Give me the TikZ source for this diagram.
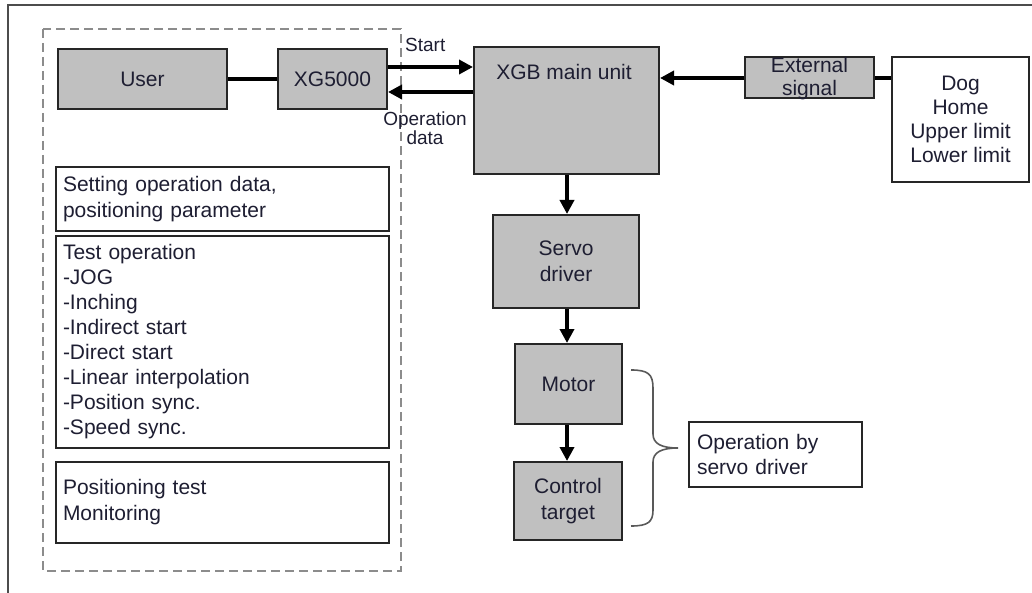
\documentclass[tikz,border=0pt]{standalone}
\usepackage{fontspec}
\setmainfont{Liberation Sans}
\usetikzlibrary{arrows.meta}
\definecolor{boxgray}{HTML}{C0C0C0}
\definecolor{txt}{HTML}{1E1E32}
\begin{document}
\begin{tikzpicture}[x=1pt,y=-1pt,
  every node/.style={text=txt},
  f21/.style={font=\fontsize{21}{25}\selectfont},
  box/.style={draw=black!85,line width=2pt,fill=boxgray,inner sep=0pt,f21,align=center},
  wbox/.style={draw=black!85,line width=2pt,fill=white,inner sep=0pt,f21},
  arr/.style={line width=4pt,-{Triangle[width=14pt,length=14pt]}},
  link/.style={line width=4pt},
  small/.style={font=\fontsize{19}{15}\selectfont,inner sep=0pt,align=center}
]
\useasboundingbox (0,0) rectangle (1032,593);
% outer frame (partly cropped)
\draw[line width=2pt,black!70] (8,593) -- (8,5) -- (1032,5);
% dashed group
\draw[draw=black!45,line width=2pt,dash pattern=on 9pt off 5pt] (43,29) rectangle (401,571);

% top row
\node[box,minimum width=169pt,minimum height=60pt] (user) at (142.5,79) {User};
\node[box,minimum width=109pt,minimum height=60pt] (xg) at (332.5,79) {XG5000};
\node[box,minimum width=185pt,minimum height=127pt] (xgb) at (566.5,110.5) {};
\node[f21,inner sep=0pt] (xgbl) at (564,72) {XGB main unit};
\node[box,minimum width=129pt,minimum height=41pt] (ext) at (809.5,77.5) {};
\node[f21,inner sep=0pt,align=center,font=\fontsize{21}{23}\selectfont] (extl) at (809.5,79) {External\\signal};
\node[wbox,minimum width=137pt,minimum height=125pt,align=center,font=\fontsize{21}{24}\selectfont] (dog) at (960.5,119.5) {Dog\\Home\\Upper limit\\Lower limit};

% left boxes
\node[wbox,minimum width=333pt,minimum height=64pt,text width=319pt,inner xsep=7pt,align=left,font=\fontsize{21}{26}\selectfont] (set) at (222.5,199) {Setting operation data,\\positioning parameter};
\node[wbox,minimum width=333pt,minimum height=212pt,text width=319pt,inner xsep=7pt,align=left] (test) at (222.5,342) {Test operation\\-JOG\\-Inching\\-Indirect start\\-Direct start\\-Linear interpolation\\-Position sync.\\-Speed sync.};
\node[wbox,minimum width=333pt,minimum height=81pt,text width=319pt,inner xsep=7pt,align=left,font=\fontsize{21}{26}\selectfont] (pos) at (222.5,502.5) {Positioning test\\Monitoring};

% right column
\node[box,minimum width=146pt,minimum height=93pt,font=\fontsize{21}{26}\selectfont] (servo) at (566,261.5) {Servo\\driver};
\node[box,minimum width=107pt,minimum height=80pt] (motor) at (568.5,384) {Motor};
\node[box,minimum width=108pt,minimum height=78pt,font=\fontsize{21}{26}\selectfont] (target) at (568,501) {Control\\target};
\node[wbox,minimum width=173pt,minimum height=65pt,text width=157pt,inner xsep=8pt,align=left] (opby) at (775.5,454.5) {Operation by\\servo driver};

% connectors
\draw[link] (user.east) -- (xg.west);
\draw[arr] (xg.east |- 0,67) -- (xgb.west |- 0,67);
\draw[arr] (xgb.west |- 0,92) -- (xg.east |- 0,92);
\node[small,anchor=west] (startl) at (405,45) {Start};
\node[small] (opdl) at (425,128) {Operation\\data};
\draw[arr] (ext.west |- 0,78) -- (xgb.east |- 0,78);
\draw[link] (ext.east |- 0,78) -- (dog.west |- 0,78);
\draw[arr] (xgb.south -| 567,0) -- (servo.north -| 567,0);
\draw[arr] (servo.south -| 567,0) -- (motor.north -| 567,0);
\draw[arr] (motor.south -| 567,0) -- (target.north -| 567,0);

% brace
\draw[black!65,line width=1.6pt]
  (631,370) .. controls (648,370) and (653,374) .. (653,388)
  -- (653,434) .. controls (653,444) and (662,448) .. (678,448)
  .. controls (662,448) and (653,452) .. (653,462)
  -- (653,510) .. controls (653,522) and (648,526) .. (631,526);
\end{tikzpicture}
\end{document}
